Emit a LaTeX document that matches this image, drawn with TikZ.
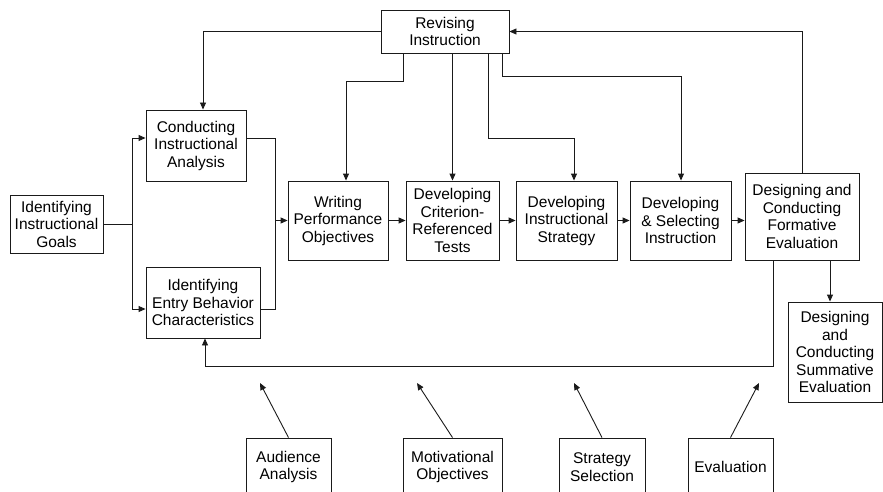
\documentclass[tikz,border=0pt]{standalone}
\usepackage{fontspec}
\setmainfont{Liberation Sans}
\usetikzlibrary{arrows.meta, calc}
\definecolor{cline}{HTML}{1A1A1A}
\tikzset{
  every picture/.style={x=1pt, y=-1pt, line width=0.9pt, font=\fontsize{15.5}{17.5}\selectfont},
  box/.style={draw=cline, fill=white, align=center, inner sep=0pt, minimum width=#1},
  arrow/.style={-{Triangle[length=7pt, width=6pt]}, draw=cline},
  link/.style={draw=cline},
}

\begin{document}
\begin{tikzpicture}
  \useasboundingbox (0,0) rectangle (883,492);
  % main row of boxes
  \node[box=128, minimum height=43] (revise) at (445,31.5) {Revising\\Instruction};
  \node[box=93, minimum height=58] (goals) at (56.5,224) {Identifying\\Instructional\\Goals};
  \node[box=100, minimum height=71] (conduct) at (196,145.5) {Conducting\\Instructional\\Analysis};
  \node[box=114, minimum height=71] (entry) at (203,302.5) {Identifying\\Entry Behavior\\Characteristics};
  \node[box=100, minimum height=79] (write) at (338,220.5) {Writing\\Performance\\Objectives};
  \node[box=93, minimum height=79] (crit) at (452.5,220.5) {Developing\\Criterion-\\Referenced\\Tests};
  \node[box=101, minimum height=79] (strat) at (566.5,220.5) {Developing\\Instructional\\Strategy};
  \node[box=101, minimum height=79] (select) at (680.5,220.5) {Developing\\\& Selecting\\Instruction};
  \node[box=114, minimum height=87] (form) at (802,216.5) {Designing and\\Conducting\\Formative\\Evaluation};
  \node[box=94, minimum height=100] (summ) at (835,352) {Designing\\and\\Conducting\\Summative\\Evaluation};
  % bottom row, cut off by the page edge
  \node[box=85, minimum height=58] (aud) at (288.5,467) {Audience\\Analysis};
  \node[box=99, minimum height=58] (motiv) at (452.5,467) {Motivational\\Objectives};
  \node[box=86, minimum height=58] (ssel) at (602,467) {Strategy\\Selection};
  \node[box=85, minimum height=58] (evalb) at (730.5,467) {Evaluation};

  % bends of the connectors
  \coordinate (ga) at (132,138);
  \coordinate (gb) at (132,309);
  \coordinate (ca) at (275,138);
  \coordinate (cb) at (275,309);
  \coordinate (r1) at (203,31.5);
  \coordinate (w1) at (403,81);
  \coordinate (w2) at (346,81);
  \coordinate (s1) at (488,138);
  \coordinate (s2) at (574,138);
  \coordinate (e1) at (502,76);
  \coordinate (e2) at (681,76);
  \coordinate (fs) at (830,280);
  \coordinate (b1) at (773,366);
  \coordinate (b2) at (205,366);
  \coordinate (t1) at (260,383);
  \coordinate (t2) at (417,383);
  \coordinate (t3) at (574,383);
  \coordinate (t4) at (759,383);

  % goals split into the two analyses
  \draw[arrow] (goals.east) -| (ga) -- (ga -| conduct.west);
  \draw[arrow] (goals.east) -| (gb) -- (gb -| entry.west);
  \draw[link] (ca -| conduct.east) -- (ca) -- (cb) -- (cb -| entry.east);
  \draw[arrow] (ca |- write.west) -- (write.west);

  % forward chain
  \draw[arrow] (write.east) -- (crit.west);
  \draw[arrow] (crit.east) -- (strat.west);
  \draw[arrow] (strat.east) -- (select.west);
  \draw[arrow] (select.east) -- (select.east -| form.west);
  \draw[arrow] (form.south -| fs) -- (summ.north -| fs);

  % revision loop
  \draw[arrow] (form.north) |- (revise.east);
  \draw[arrow] (revise.west) -| (conduct.north -| r1);
  \draw[arrow] (revise.south -| w1) -- (w1) -- (w2) -- (w2 |- write.north);
  \draw[arrow] (revise.south -| crit.north) -- (crit.north);
  \draw[arrow] (revise.south -| s1) -- (s1) -- (s2) -- (s2 |- strat.north);
  \draw[arrow] (revise.south -| e1) -- (e1) -- (e2) -- (e2 |- select.north);
  \draw[arrow] (form.south -| b1) -- (b1) -- (b2) -- (entry.south -| b2);

  % inputs from below
  \draw[arrow] (aud.north) -- (t1);
  \draw[arrow] (motiv.north) -- (t2);
  \draw[arrow] (ssel.north) -- (t3);
  \draw[arrow] (evalb.north) -- (t4);
\end{tikzpicture}
\end{document}
